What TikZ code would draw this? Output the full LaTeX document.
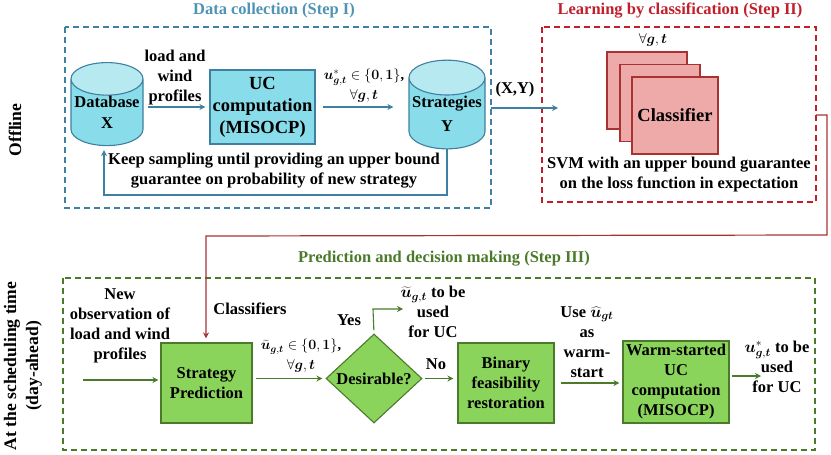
\documentclass[tikz,border=0pt]{standalone}
\usepackage{fix-cm}
\usepackage{fontspec}
\usepackage{bm}
\setmainfont{Liberation Serif}
\usetikzlibrary{shapes.geometric,arrows.meta}
\definecolor{bluedark}{HTML}{3F7F9F}
\definecolor{bluetitle}{HTML}{4F93B5}
\definecolor{bluefill}{HTML}{89DCEA}
\definecolor{bluetop}{HTML}{B7E9F1}
\definecolor{reddark}{HTML}{C0202C}
\definecolor{redline}{HTML}{A83232}
\definecolor{redfill}{HTML}{EEA9A9}
\definecolor{greendark}{HTML}{4B7A2B}
\definecolor{greenfill}{HTML}{8BD45C}
\newcommand{\ugt}{\bm{u}^{*}_{\bm{g},\bm{t}}}
\newcommand{\utilde}{\widetilde{\bm{u}}_{\bm{g},\bm{t}}}
\newcommand{\mathsize}{\fontsize{14.2}{20}\selectfont}
\tikzset{
  every node/.style={font=\bfseries\fontsize{16.5}{20}\selectfont,align=center,inner sep=0pt},
  bigfont/.style={font=\bfseries\fontsize{18.5}{22}\selectfont},
  sidefont/.style={font=\bfseries\fontsize{17.6}{22}\selectfont},
  framebox/.style={draw,dash pattern=on 6pt off 4pt,line width=1.1pt},
  bluearrow/.style={draw=bluedark,line width=1.1pt,-{Stealth[length=6pt,width=6pt]}},
  greenarrow/.style={draw=greendark,line width=1.1pt,-{Stealth[length=6pt,width=6pt]}},
  redarrow/.style={draw=redline,line width=1.2pt,-{Stealth[length=6pt,width=6pt]}},
  bluebox/.style={draw=bluedark,fill=bluefill,line width=1.1pt,rectangle},
  redbox/.style={draw=redline,fill=redfill,line width=1.1pt,rectangle},
  greenbox/.style={draw=greendark,fill=greenfill,line width=1.1pt,rectangle},
  store/.style={cylinder,shape border rotate=90,aspect=0.5,draw=bluedark,line width=1.1pt,
    cylinder uses custom fill,cylinder body fill=bluefill,cylinder end fill=bluetop},
}
\begin{document}
\begin{tikzpicture}[x=1pt,y=-1pt]
  \useasboundingbox (0,0) rectangle (831,455);
  % frames
  \draw[framebox,draw=bluedark] (65,27) rectangle (491,208);
  \draw[framebox,draw=reddark] (542,27) rectangle (816,202);
  \draw[framebox,draw=greendark] (63,278) rectangle (815,450);
  \node[text=bluetitle] (titleone) at (274,11) {Data collection (Step I)};
  \node[text=reddark] (titletwo) at (680,11) {Learning by classification (Step II)};
  \node[text=greendark] (titlethree) at (444,259) {Prediction and decision making (Step III)};
  \node[sidefont,rotate=90] (offline) at (15,130) {Offline};
  \node[sidefont,rotate=90] (sched) at (23,366) {At the scheduling time\\(day-ahead)};
  % step I
  \node[store,minimum width=72pt,minimum height=83pt] (db) at (107,112.5) {\raisebox{-5pt}{\shortstack{Database\\[7pt]X}}};
  \node[bluebox,bigfont,minimum width=105pt,minimum height=74pt] (uc) at (262.5,107) {UC\\computation\\(MISOCP)};
  \node[store,minimum width=76pt,minimum height=83pt] (st) at (447,113.5) {\raisebox{-10pt}{\shortstack{Strategies\\[7pt]Y}}};
  \node (loadlab) at (175,78) {load and\\wind\\profiles};
  \node (ulab) at (364,86) {\mathsize$\ugt\in\{\bm{0},\bm{1}\}$,\\\mathsize$\forall\bm{g},\bm{t}$};
  \node (keeplab) at (274,171) {Keep sampling until providing an upper bound\\guarantee on probability of new strategy};
  \node (xylab) at (515,90) {(X,Y)};
  \coordinate (xyend) at (558,108);
  \coordinate (backa) at (447,195);
  \coordinate (backb) at (104,195);
  \draw[bluearrow,shorten <=4pt,shorten >=4pt] (db.east |- uc.west) -- (uc.west);
  \draw[bluearrow,shorten <=7pt,shorten >=15pt] (uc.east) -- (st.west |- uc.east);
  \draw[bluearrow,shorten <=5pt] (st.east |- xyend) -- (xyend);
  \draw[bluearrow,shorten >=4pt] (st.south) -- (backa) -- (backb) -- (db.south -| backb);
  % step II
  \node[redbox,minimum width=80pt,minimum height=77pt] (clsa) at (647,90.5) {};
  \node[redbox,minimum width=80pt,minimum height=77pt] (clsb) at (660,103) {};
  \node[redbox,bigfont,minimum width=86pt,minimum height=77pt] (cls) at (675,115.5) {Classifier};
  \node (forall) at (653,40) {\mathsize$\forall\bm{g},\bm{t}$};
  \node (svmlab) at (679,175) {SVM with an upper bound guarantee\\on the loss function in expectation};
  % step III
  \node[greenbox,minimum width=91pt,minimum height=80pt] (pred) at (206.5,383) {Strategy\\Prediction};
  \node[diamond,draw=greendark,fill=greenfill,line width=1.1pt,minimum width=96pt,minimum height=89pt] (des) at (374,378.5) {Desirable?};
  \node[greenbox,minimum width=96pt,minimum height=80pt] (bin) at (506,383) {Binary\\feasibility\\restoration};
  \node[greenbox,minimum width=106pt,minimum height=82pt] (warm) at (676,382) {Warm-started\\UC\\computation\\(MISOCP)};
  \node (newlab) at (120,326) {New\\observation of\\load and wind\\profiles};
  \node (clslab) at (250,309) {Classifiers};
  \node (utlab) at (301,356) {\mathsize$\utilde\in\{\bm{0},\bm{1}\}$,\\\mathsize$\forall\bm{g},\bm{t}$};
  \node (yeslab) at (349,320) {Yes};
  \node (uselab) at (433,312) {$\utilde$ to be\\used\\for UC};
  \node (nolab) at (436,364) {No};
  \node (warmlab) at (587,342) {Use $\widehat{\bm{u}}_{\bm{g}\bm{t}}$\\as\\warm-\\start};
  \node (outlab) at (777,367) {$\ugt$ to be\\used\\for UC};
  \coordinate (newstart) at (83,380);
  \coordinate (corner) at (373,309);
  \coordinate (yesend) at (403,309);
  \coordinate (outend) at (761,376);
  \coordinate (rednw) at (816,115);
  \coordinate (redne) at (827,115);
  \coordinate (redse) at (827,235);
  \coordinate (redsw) at (206,236);
  \draw[greenarrow,shorten >=2pt] (newstart) -- (pred.west |- newstart);
  \draw[greenarrow,shorten <=3pt,shorten >=3pt] (pred.east |- des.west) -- (des.west);
  \draw[greenarrow,shorten <=3pt] (des.north) -- (corner) -- (yesend);
  \draw[greenarrow,shorten <=2pt,shorten >=4pt] (des.east) -- (bin.west |- des.east);
  \draw[greenarrow,shorten <=6pt,shorten >=3pt] (bin.east |- 0,383) -- (warm.west |- 0,383);
  \draw[greenarrow,shorten <=2pt] (warm.east |- outend) -- (outend);
  \draw[redarrow,shorten >=4pt] (rednw) -- (redne) -- (redse) -- (redsw) -- (pred.north -| redsw);
\end{tikzpicture}
\end{document}
